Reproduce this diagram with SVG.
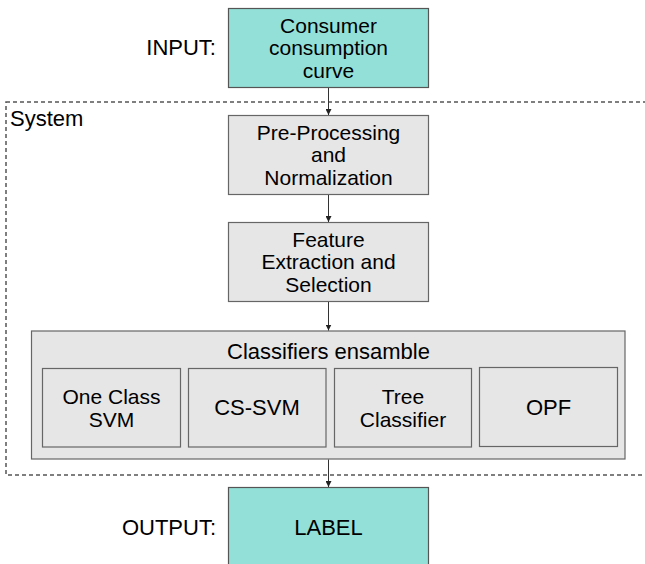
<svg xmlns="http://www.w3.org/2000/svg" width="645" height="564" viewBox="0 0 645 564">
<defs>
<style>
text{font-family:"Liberation Sans",Arial,sans-serif;font-size:21px;fill:#000;text-anchor:middle}
.big{font-size:22px}
.io{fill:#93e0d9;stroke:#555;stroke-width:1.2}
.proc{fill:#e6e6e6;stroke:#666;stroke-width:1.2}
.sys{fill:none;stroke:#555;stroke-width:1.5;stroke-dasharray:4 3}
.conn{stroke:#333;stroke-width:1;fill:none;marker-end:url(#ah)}
</style>
<marker id="ah" viewBox="0 0 6 6" refX="6" refY="3" markerWidth="6" markerHeight="6" markerUnits="userSpaceOnUse" orient="auto">
<path d="M0,0 L6,3 L0,6 z" fill="#222"/>
</marker>
</defs>
<rect fill="#fff" width="645" height="564"/>
<g id="system">
<rect class="sys" x="6" y="102" width="660" height="373"/>
<text class="big" x="10" y="126" style="text-anchor:start">System</text>
</g>
<g id="input">
<text class="big" x="216" y="55" style="text-anchor:end">INPUT:</text>
<rect class="io" x="228.5" y="8.5" width="200" height="79"/>
<text x="328.5" y="32.5">Consumer</text>
<text x="328.5" y="55">consumption</text>
<text x="328.5" y="77.5">curve</text>
</g>
<g id="preprocessing">
<rect class="proc" x="228.5" y="115.5" width="200" height="79"/>
<text x="328.5" y="139.5">Pre-Processing</text>
<text x="328.5" y="162">and</text>
<text x="328.5" y="184.5">Normalization</text>
</g>
<g id="feature">
<rect class="proc" x="228.5" y="222.5" width="200" height="79"/>
<text x="328.5" y="246.5">Feature</text>
<text x="328.5" y="269">Extraction and</text>
<text x="328.5" y="291.5">Selection</text>
</g>
<g id="ensemble">
<rect class="proc" x="31.5" y="331" width="593.5" height="128"/>
<text class="big" x="328.5" y="359">Classifiers ensamble</text>
</g>
<g id="ocsvm">
<rect class="proc" x="42.5" y="368.5" width="138" height="78.5"/>
<text x="111.5" y="404">One Class</text>
<text x="111.5" y="426.5">SVM</text>
</g>
<g id="cssvm">
<rect class="proc" x="188.5" y="368.5" width="137.5" height="78.5"/>
<text class="big" x="257" y="415">CS-SVM</text>
</g>
<g id="tree">
<rect class="proc" x="334.5" y="368.5" width="137" height="78.5"/>
<text x="403" y="404">Tree</text>
<text x="403" y="426.5">Classifier</text>
</g>
<g id="opf">
<rect class="proc" x="479.5" y="367.5" width="138" height="79"/>
<text class="big" x="548.5" y="415">OPF</text>
</g>
<g id="output">
<text class="big" x="216" y="535" style="text-anchor:end">OUTPUT:</text>
<rect class="io" x="228.5" y="487.5" width="200" height="90"/>
<text class="big" x="328.5" y="535">LABEL</text>
</g>
<g id="connectors">
<path class="conn" d="M328.5 88 V115"/>
<path class="conn" d="M328.5 195 V222"/>
<path class="conn" d="M328.5 302 V330.5"/>
<path class="conn" d="M328.5 459.5 V487"/>
</g>
</svg>
